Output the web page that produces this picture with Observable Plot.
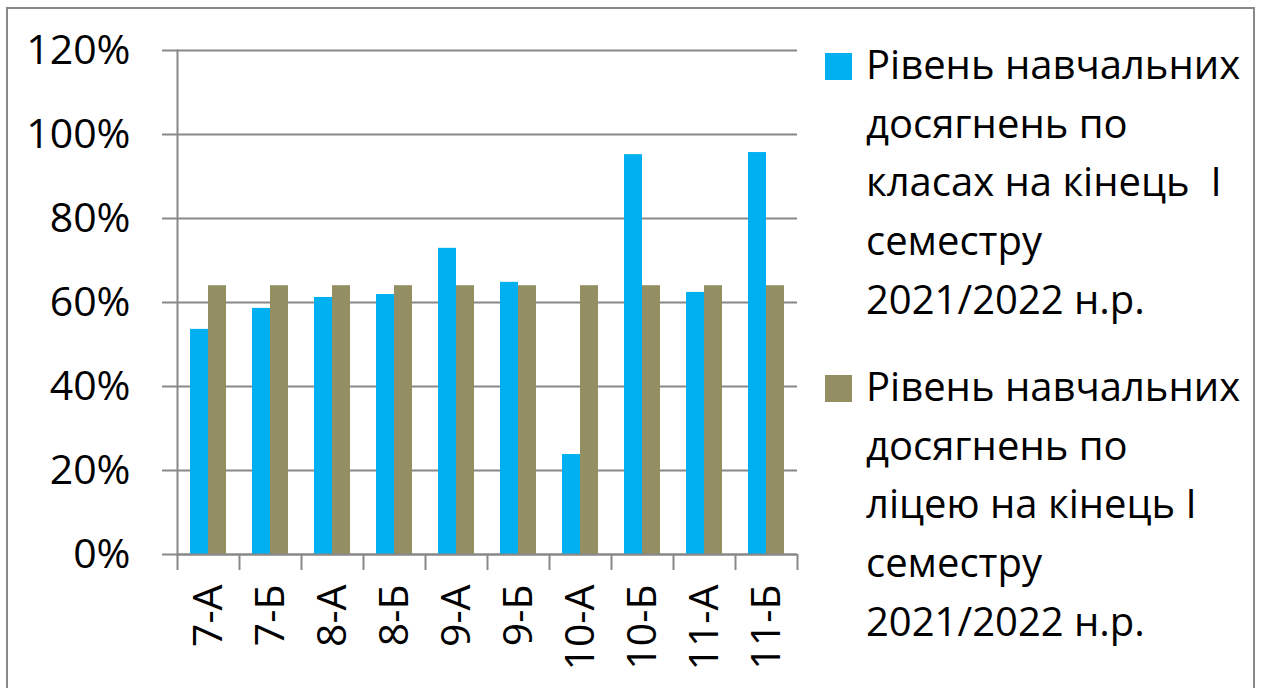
<!DOCTYPE html>
<html>
<head>
<meta charset="utf-8">
<script src="https://cdn.jsdelivr.net/npm/d3@7"></script>
<script src="https://cdn.jsdelivr.net/npm/@observablehq/plot@0.6"></script>
<style>
  html, body { margin: 0; padding: 0; background: #fff; overflow: hidden; }
  #wrap { position: relative; width: 1261px; height: 688px; overflow: hidden; font-family: "Open Sans", sans-serif; }
  #border { position: absolute; left: 6px; top: 7px; width: 1249px; height: 720px; border: 2px solid #888; box-sizing: border-box; }
  #chart { position: absolute; left: 0; top: 0; }
  .leg { position: absolute; left: 866px; font-size: 40px; line-height: 58.7px; color: #000; white-space: pre; }
  .sw { position: absolute; left: 825px; width: 27px; height: 27px; }
</style>
</head>
<body>
<div id="wrap">
  <div id="border"></div>
  <div id="chart"></div>
</div>
<script>
const classes = ["7-А", "7-Б", "8-А", "8-Б", "9-А", "9-Б", "10-А", "10-Б", "11-А", "11-Б"];
const classLevel = [0.536, 0.586, 0.612, 0.619, 0.729, 0.648, 0.238, 0.952, 0.624, 0.957];
const lyceumLevel = [0.64, 0.64, 0.64, 0.64, 0.64, 0.64, 0.64, 0.64, 0.64, 0.64];
const yTicks = [0, 0.2, 0.4, 0.6, 0.8, 1.0, 1.2];
const seriesNames = [
  "Рівень навчальних досягнень по класах на кінець  І семестру 2021/2022 н.р.",
  "Рівень навчальних досягнень по ліцею на кінець І семестру 2021/2022 н.р."
];
const legendLines = [
  ["Рівень навчальних", "досягнень по", "класах на кінець  І", "семестру", "2021/2022 н.р."],
  ["Рівень навчальних", "досягнень по", "ліцею на кінець І", "семестру", "2021/2022 н.р."]
];
const colors = ["#00B0F0", "#938F62"];

const data = classes.map((c, i) => ({cls: c, classLevel: classLevel[i], lyceum: lyceumLevel[i]}));
const grid = "#888888";

const chart = Plot.plot({
  width: 800,
  height: 688,
  marginLeft: 177,
  marginRight: 3,
  marginTop: 50,
  marginBottom: 134,
  style: {fontFamily: "Open Sans", fontSize: "41px", color: "#000", background: "transparent", overflow: "visible"},
  x: {domain: classes, paddingInner: 0, paddingOuter: 0, axis: null},
  y: {domain: [0, 1.2], axis: null},
  marks: [
    Plot.gridY(yTicks, {stroke: grid, strokeOpacity: 1, strokeWidth: 2}),
    Plot.axisY(yTicks, {tickFormat: d3.format(".0%"), tickSize: 15, tickPadding: 32, stroke: grid, strokeWidth: 2, strokeOpacity: 1, fontSize: 41, label: null}),
    Plot.barY(data, {x: "cls", y: "classLevel", fill: colors[0], insetLeft: 13, insetRight: 31}),
    Plot.barY(data, {x: "cls", y: "lyceum", fill: colors[1], insetLeft: 31, insetRight: 13}),
    Plot.frame({anchor: "left", stroke: grid, strokeWidth: 2}),
    Plot.ruleY([0], {stroke: grid, strokeWidth: 2}),
    Plot.axisX(classes, {tickSize: 16, tickFormat: () => "", dx: -31, stroke: grid, strokeWidth: 2, strokeOpacity: 1, label: null}),
    Plot.axisX([classes[classes.length - 1]], {tickSize: 16, tickFormat: () => "", dx: 31, stroke: grid, strokeWidth: 2, strokeOpacity: 1, label: null}),
    Plot.axisX(classes, {tickSize: 0, tickPadding: 30, tickRotate: -90, fontSize: 41, fill: "#000", label: null})
  ]
});
document.getElementById("chart").appendChild(chart);

const wrap = document.getElementById("wrap");
const groupTops = [35, 357];
const swatchTops = [53, 375];
legendLines.forEach((lines, k) => {
  const sw = document.createElement("div");
  sw.className = "sw";
  sw.style.top = swatchTops[k] + "px";
  sw.style.background = colors[k];
  sw.title = seriesNames[k];
  wrap.appendChild(sw);
  const t = document.createElement("div");
  t.className = "leg";
  t.style.top = groupTops[k] + "px";
  t.textContent = lines.join("\n");
  wrap.appendChild(t);
});
</script>
</body>
</html>
